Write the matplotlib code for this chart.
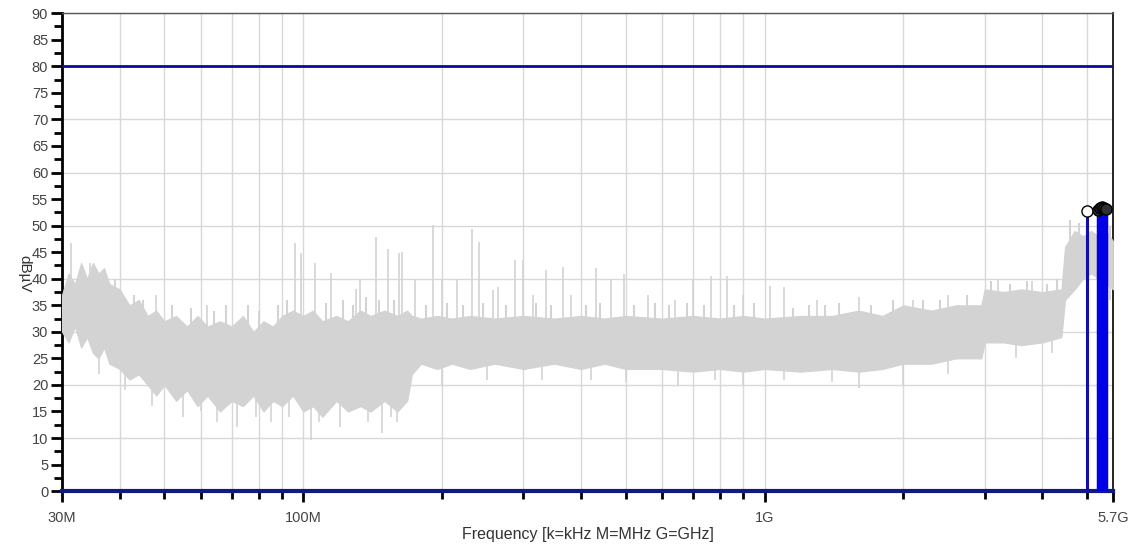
import numpy as np
import matplotlib
matplotlib.use('Agg')
from matplotlib import pyplot as plt
from matplotlib.ticker import FixedLocator, NullFormatter, MultipleLocator

plt.rcParams['font.family'] = ['Liberation Sans', 'DejaVu Sans']

# noise floor envelope (MHz, dBuV)
noise_freq = [30, 31, 32, 33, 34, 35, 36, 37, 38, 40, 42, 44, 46, 48, 50, 53, 56, 59, 62, 66,
              70, 74, 78, 82, 86, 90, 95, 100, 105, 110, 118, 125, 133, 140, 150, 160, 168, 172,
              180, 195, 210, 230, 260, 300, 350, 400, 450, 500, 600, 700, 800, 900, 1000, 1200,
              1400, 1600, 1800, 2000, 2300, 2600, 2950, 3000, 3300, 3600, 4000, 4400, 4480, 4700,
              4900, 5100, 5300, 5500, 5700]
noise_upper = [37, 41, 39, 43, 40, 43, 41, 42, 39, 38, 35, 36, 33, 34, 32, 33, 31, 33, 31, 32,
               31, 33, 30, 32, 31, 33, 34, 33, 34, 32, 33, 32, 34, 33, 34, 33, 34, 33,
               32.5, 33, 32.5, 33, 32.5, 33, 32.5, 33, 32.5, 33, 32.5, 33, 32.5, 33, 32.5, 33,
               33, 34, 33, 35, 34, 35, 35, 38, 37.5, 38, 37.5, 38, 46, 49,
               48, 49, 48, 49, 47]
noise_lower = [30, 28, 31, 27, 29, 26, 25, 27, 24, 23, 21, 22, 20, 18, 20, 17, 19, 16, 18, 15,
               17, 16, 18, 15, 17, 16, 18, 15, 16, 14, 17, 15, 16, 15, 17, 15, 17, 22,
               24, 23, 24, 23, 24, 23, 24, 23, 24, 23, 23, 22.5, 23, 22.5, 23, 22.5,
               23, 22.5, 23, 24, 24, 25, 25, 28, 28, 27.5, 28, 29, 36, 38,
               40, 41, 40, 39, 38]

# narrow emissions standing above the noise (MHz, dBuV)
spike_freq = [31.3, 34.5, 48, 62, 96, 99, 106, 115, 130, 133, 144, 153, 161, 164, 175, 191, 200,
              215, 232, 241, 258, 264, 288, 300, 315, 336, 365, 380, 432, 465, 496, 560, 640,
              700, 765, 830, 900, 1030, 1100, 1300, 1600, 2100, 2500, 3200, 3800]
spike_level = [46.7, 43, 37, 35, 46.7, 44.8, 43, 41, 38, 39.7, 47.8, 45.6, 44.8, 45, 40, 50.1, 40,
               40, 49.3, 47, 37.8, 38.4, 43.5, 43.5, 37, 41.6, 42.2, 37, 42, 40, 40.8, 37, 36,
               40, 40.5, 40.5, 37, 38.6, 38.5, 36, 36.5, 36, 37, 40, 39.5]

# smaller ripples on top of the noise band (MHz, dBuV)
ripple_freq = [39, 43, 45, 52, 57, 64, 68, 76, 80, 88, 92, 112, 122, 128, 137, 146, 157, 185,
               205, 222, 245, 275, 320, 345, 410, 440, 520, 580, 620, 680, 740, 860, 950, 1150,
               1250, 1350, 1450, 1700, 1900, 2200, 2400, 2750, 3100, 3400, 3700, 4100, 4300,
               4600, 4800, 5000, 5600]
ripple_level = [40, 37, 36, 35, 34.5, 34, 35, 35, 34, 35, 36, 35.5, 36, 35, 36.5, 36, 36, 35,
                35.5, 35, 35.5, 35, 35.5, 35, 35, 35.5, 35, 35.5, 35, 35.5, 35, 35, 35.5, 34.5,
                35, 35, 35.5, 35, 36, 36, 36, 37, 39.5, 39, 39.5, 39, 40, 51, 50.5, 51, 50]

# downward excursions of the noise (MHz, dBuV)
dip_freq = [36, 41, 47, 55, 60, 65, 72, 79, 85, 93, 104, 108, 120, 138, 148, 155, 160, 200, 250,
            330, 420, 500, 650, 780, 900, 1100, 1400, 1600, 2000, 2500, 3500, 4200, 5600]
dip_level = [22, 19, 16, 14, 15, 13, 12, 14, 13, 14, 9.6, 13, 12, 13, 11, 14, 13, 20, 21,
             21, 21, 20.5, 20, 21, 20, 21, 20.5, 19.5, 20, 22, 25, 26, 36]

# final peaks with markers (GHz, dBuV)
peak_freq = [5.01, 5.29, 5.34, 5.40, 5.45, 5.49]
peak_level = [52.8, 53.0, 53.3, 53.6, 53.4, 53.2]
limit_level = 80

fig = plt.figure(figsize=(11.36, 5.5), dpi=100)
ax = fig.add_axes([0.0546, 0.107, 0.9254, 0.869])

gray = '#d3d3d3'
nf = np.array(noise_freq) * 1e6
lognf = np.log10(nf)
mid = (np.array(noise_upper) + np.array(noise_lower)) / 2


def band_mid(f_mhz):
    return np.interp(np.log10(np.array(f_mhz) * 1e6), lognf, mid)


ax.fill_between(nf, noise_lower, noise_upper, color=gray, lw=0.8, edgecolor=gray, zorder=3)
ax.vlines(np.array(spike_freq) * 1e6, band_mid(spike_freq), spike_level, color=gray, lw=1.2, zorder=3)
ax.vlines(np.array(ripple_freq) * 1e6, band_mid(ripple_freq), ripple_level, color=gray, lw=1.5, zorder=3)
ax.vlines(np.array(dip_freq) * 1e6, band_mid(dip_freq), dip_level, color=gray, lw=1.2, zorder=3)

ax.axhline(limit_level, color='#0a0aa0', lw=2, zorder=4)

pf = np.array(peak_freq) * 1e9
ax.vlines(pf[:1], 0, peak_level[:1], color='#1010a8', lw=2.2, zorder=5)
ax.vlines(pf[1:], 0, peak_level[1:], color='#0000e8', lw=2.5, zorder=5)
ax.plot(pf[:1], peak_level[:1], 'o', mfc='white', mec='black', ms=8, mew=1, zorder=6, clip_on=False)
ax.plot(pf[1:], peak_level[1:], 'o', mfc='#303030', mec='black', ms=8, mew=1, zorder=6, clip_on=False)

ax.set_xscale('log')
ax.set_xlim(30e6, 5.7e9)
ax.set_ylim(0, 90)

ax.xaxis.set_major_locator(FixedLocator([30e6, 100e6, 1e9, 5.7e9]))
ax.set_xticklabels(['30M', '100M', '1G', '5.7G'])
minors = [m * 1e6 for m in range(40, 100, 10)] + [m * 1e6 for m in range(200, 1000, 100)] + \
         [m * 1e9 for m in range(2, 6)]
ax.xaxis.set_minor_locator(FixedLocator(minors))
ax.xaxis.set_minor_formatter(NullFormatter())
ax.yaxis.set_major_locator(MultipleLocator(5))
ax.yaxis.set_minor_locator(MultipleLocator(2.5))

ax.grid(True, which='both', axis='x', color='#d8d8d8', lw=1, zorder=0)
for v in range(10, 91, 10):
    ax.axhline(v, color='#d8d8d8', lw=1, zorder=0)

ax.tick_params(axis='both', which='major', length=8, width=2, color='black',
               labelsize=10.5, labelcolor='#444444', pad=2)
ax.tick_params(axis='both', which='minor', length=6, width=2, color='black')
ax.tick_params(axis='x', which='both', pad=6)

ax.spines['left'].set_color('black')
ax.spines['left'].set_linewidth(2)
ax.spines['bottom'].set_color('#101a80')
ax.spines['bottom'].set_linewidth(3)
ax.spines['top'].set_color('#555555')
ax.spines['top'].set_linewidth(1)
ax.spines['right'].set_color('black')
ax.spines['right'].set_linewidth(1.2)

ax.set_xlabel('Frequency [k=kHz M=MHz G=GHz]', fontsize=11.5, color='#333333', labelpad=2)
ax.set_ylabel('dBµV', fontsize=11, color='#333333', rotation=-90, labelpad=6)
ax.yaxis.set_label_coords(-0.042, 0.455)

fig.savefig('out.png', dpi=100)
